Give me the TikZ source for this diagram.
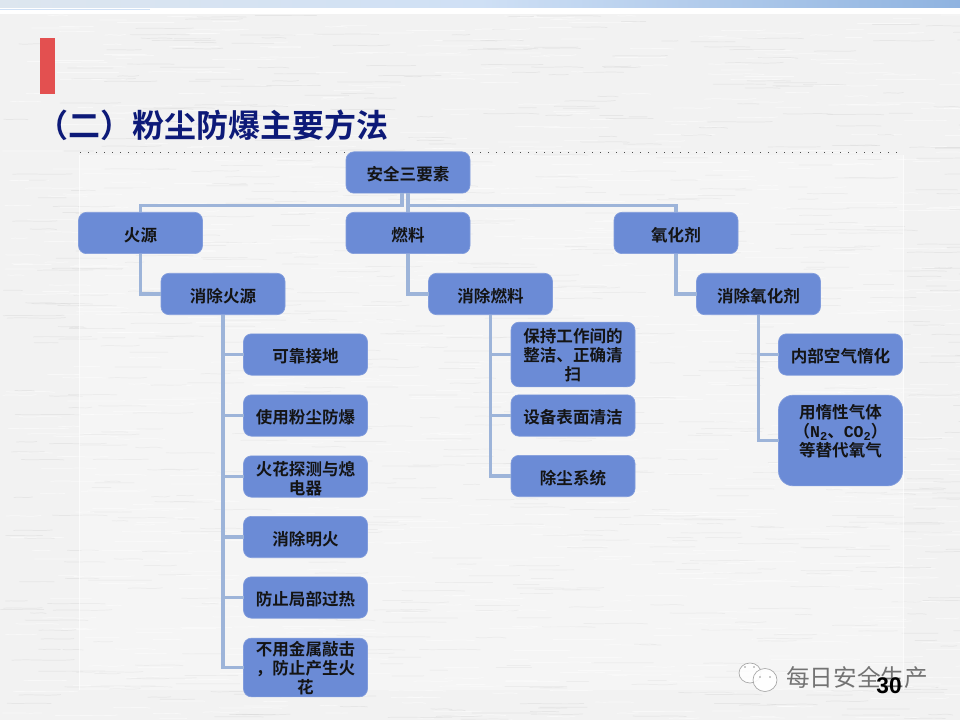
\documentclass[tikz,border=0pt]{standalone}
\usepackage{fontspec}
\setmainfont{Noto Sans CJK SC}[BoldFont={Noto Sans CJK SC Bold}]
\newfontfamily\latb{Liberation Mono}[BoldFont={Liberation Mono Bold}]
\newfontfamily\numb{Liberation Sans}[BoldFont={Liberation Sans Bold}]
\usetikzlibrary{calc}
\definecolor{paper}{HTML}{F2F2F2}
\definecolor{boxc}{HTML}{6B8BD6}
\definecolor{linkc}{HTML}{9DB4D9}
\definecolor{titlec}{HTML}{0D1A78}
\definecolor{barc}{HTML}{E35050}
\definecolor{bandl}{HTML}{DDE6EF}
\definecolor{bandm}{HTML}{CFE0F5}
\definecolor{bandr}{HTML}{8FB3E0}
\newcommand{\lab}[2][1.5pt]{\vbox{\kern#1\hbox{\parbox{88pt}{\centering #2}}\kern-#1}}
\tikzset{
  x=0.75pt,y=-0.75pt,
  box/.style={draw=boxc!85!white,line width=0.5pt,fill=boxc,rounded corners=6pt,minimum width=93pt,minimum height=31pt,
    inner sep=0pt,outer sep=0pt,align=center,text=black!92,
    font=\bfseries\fontsize{12.4}{14.4}\selectfont},
  tall/.style={box,minimum height=#1},
  link/.style={draw=linkc,line width=2.3pt,line cap=butt},
  streak/.style={line width=0.55pt,line cap=round}
}
\begin{document}
\begin{tikzpicture}
\useasboundingbox (0,0) rectangle (960,720);
\begin{scope}
\clip (0,0) rectangle (960,720);
\fill[paper] (0,0) rectangle (960,720);
% paper grain
\pgfmathsetseed{4242}
\foreach \i in {1,...,1700}{
  \pgfmathsetmacro{\xa}{rnd*960}
  \pgfmathsetmacro{\ya}{rnd*720}
  \pgfmathsetmacro{\ln}{15+rnd*50}
  \pgfmathsetmacro{\dy}{(rnd-0.5)*3}
  \pgfmathsetmacro{\tone}{rnd<0.55?100:72}
  \draw[streak,color=white!\tone!gray,opacity=0.5] (\xa,\ya) .. controls ($(\xa,\ya)+(\ln/3,\dy)$) and ($(\xa,\ya)+(2*\ln/3,-\dy)$) .. ($(\xa,\ya)+(\ln,\dy/2)$);
}
% top band
\fill[white] (0,8) rectangle (960,14);
\shade[left color=bandl,right color=bandm] (0,0) rectangle (480,8);
\shade[left color=bandm,right color=bandr] (480,0) rectangle (960,8);
\draw[color=bandm,line width=0.8pt] (0,9.5) -- (150,9.5);
% panel
\fill[white,opacity=0.25] (80,155) rectangle (903,690);
\draw[white,line width=0.6pt,opacity=0.7] (79,155) -- (79,690) (903,155) -- (903,690);
\end{scope}
% title block
\fill[barc] (40,38) rectangle (55,94);
\node[anchor=west,inner sep=0pt,text=titlec,font=\bfseries\fontsize{24}{26}\selectfont] (title) at (36,125) {（二）粉尘防爆主要方法};
\coordinate (dotl) at (80,152.5);
\coordinate (dotr) at (900,152.5);
\draw[black!70,line width=0.8pt,dash pattern=on 0.8pt off 5.2pt] (dotl) -- (dotr);
% nodes
\node[box] (top) at (408,172.5) {\lab{安全三要素}};
\node[box] (huo) at (140.5,233) {\lab{火源}};
\node[box] (ran) at (408,233) {\lab{燃料}};
\node[box] (yang) at (676,233) {\lab{氧化剂}};
\node[box] (xh) at (223,294) {\lab{消除火源}};
\node[box] (xr) at (490.5,294) {\lab{消除燃料}};
\node[box] (xy) at (758.5,294) {\lab{消除氧化剂}};
\node[box] (a1) at (305.5,354.5) {\lab{可靠接地}};
\node[box] (a2) at (305.5,415.5) {\lab{使用粉尘防爆}};
\node[box] (a3) at (305.5,476.5) {\lab{火花探测与熄\\电器}};
\node[box] (a4) at (305.5,537) {\lab{消除明火}};
\node[box] (a5) at (305.5,597.5) {\lab{防止局部过热}};
\node[tall=44pt] (a6) at (305.5,667.5) {\lab[0.5pt]{不用金属敲击\\，防止产生火\\花}};
\node[tall=48.5pt] (b1) at (573,354.5) {\lab[0.5pt]{保持工作间的\\整洁、正确清\\扫}};
\node[box] (b2) at (573,415.5) {\lab{设备表面清洁}};
\node[box] (b3) at (573,476) {\lab{除尘系统}};
\node[box] (c1) at (840.5,354.5) {\lab{内部空气惰化}};
\node[tall=68pt,rounded corners=11pt] (c2) at (840.5,440.5) {\lab[-7pt]{用惰性气体\\（{\latb\bfseries N\raisebox{-2pt}{\fontsize{9}{9}\selectfont 2}}、{\latb\bfseries CO\raisebox{-2pt}{\fontsize{9}{9}\selectfont 2}}）\\等替代氧气}};
% connectors
\coordinate (busl) at ($(top.south)+(-6,0)$);
\draw[link] (busl) -- ++(0,12) -| (huo.north);
\draw[link] (top.south) -- (ran.north);
\draw[link] (top.south) -- ++(0,12) -| (yang.north);
\draw[link] (huo.south) |- (xh.west);
\draw[link] (ran.south) |- (xr.west);
\draw[link] (yang.south) |- (xy.west);
\foreach \n in {a1,a2,a3,a4,a5,a6}{\draw[link] (xh.south) |- (\n.west);}
\foreach \n in {b1,b2,b3}{\draw[link] (xr.south) |- (\n.west);}
\foreach \n in {c1,c2}{\draw[link] (xy.south) |- (\n.west);}
% watermark
\coordinate (wa) at (750,673);
\coordinate (wb) at (765,680);
\draw[gray!70,line width=0.5pt,fill=white,fill opacity=0.8] (wa) ellipse (11 and 10);
\draw[gray!70,line width=0.5pt,fill=white,fill opacity=0.9] ($(wb)+(0,0)$) ellipse (12 and 11.5);
\fill[gray!80] ($(wa)+(-5,-6)$) circle (0.8) ($(wa)+(4,-6)$) circle (0.8) ($(wb)+(-5,-3)$) circle (0.8) ($(wb)+(5,-3)$) circle (0.8);
\node[anchor=west,inner sep=0pt,text=black!55,font=\fontsize{17.7}{18}\selectfont] (wm) at (786,677) {每日安全生产};
\node[inner sep=0pt,text=black,font=\numb\bfseries\fontsize{17}{17}\selectfont] (pg) at (889,686) {30};
\end{tikzpicture}
\end{document}
